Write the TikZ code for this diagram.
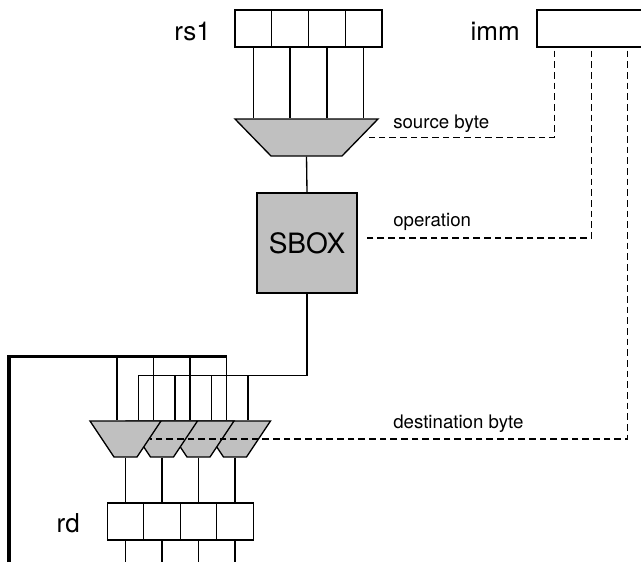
\documentclass[tikz,border=0pt]{standalone}
\usepackage{fontspec}
\setmainfont{TeX Gyre Heros}
\setsansfont{TeX Gyre Heros}
\usetikzlibrary{shapes.geometric,calc}
\definecolor{muxfill}{HTML}{C0C0C0}
\tikzset{
  wire/.style={draw=black, line width=1pt},
  loopbus/.style={draw=black, line width=2.3pt},
  ctrl/.style={draw=black, line width=1pt, dash pattern=on 5pt off 3pt},
  regbyte/.style={draw=black, line width=1pt, fill=white, minimum width=27.5pt, minimum height=27.75pt, inner sep=0pt},
  mux/.style={trapezium, shape border rotate=180, draw=black, line width=1pt, fill=muxfill, inner sep=0pt, text depth=0pt},
  bytemux/.style={mux, text width=17.25pt, text height=27pt, trapezium angle=56.3},
  regname/.style={font=\sffamily\fontsize{19.5}{22}\selectfont, inner sep=0pt},
  ctrlname/.style={font=\sffamily\fontsize{14}{17}\selectfont, inner sep=0pt}
}

\begin{document}
\begin{tikzpicture}[x=0.75pt,y=-0.75pt,font=\sffamily]
\useasboundingbox (0,0) rectangle (641,562);
\clip (0,0) rectangle (641,562);

% Source register rs1 and the immediate
\node[regbyte] (rs1a) at (253.4,28.5) {};
\node[regbyte] (rs1b) at (290.1,28.5) {};
\node[regbyte] (rs1c) at (326.9,28.5) {};
\node[regbyte] (rs1d) at (363.6,28.5) {};
\node[regname, anchor=base east] (rs1name) at (211,40) {rs1};
\node[regbyte, minimum width=92.25pt] (imm) at (598.5,28.5) {};
\node[regname, anchor=base east] (immname) at (520,40) {imm};

% Source byte select and S-box
\node[mux, text width=53.25pt, text height=27.75pt, trapezium angle=45.8] (selsrc) at (306.5,137.5) {};
\node[draw, line width=1pt, fill=muxfill, minimum size=75pt, inner sep=0pt,
      font=\sffamily\fontsize{21}{24}\selectfont] (sbox) at (307,243) {SBOX};
\draw[wire] (rs1a.south) -- (rs1a.south |- selsrc.north);
\draw[wire] (rs1b.south) -- (rs1b.south |- selsrc.north);
\draw[wire] (rs1c.south) -- (rs1c.south |- selsrc.north);
\draw[wire] (rs1d.south) -- (rs1d.south |- selsrc.north);
\draw[wire] (selsrc.south) -- (sbox.north);

% Destination byte muxes (drawn right to left so each one overlaps the next)
\node[bytemux] (dmuxd) at (235,439) {};
\node[bytemux] (dmuxc) at (198.5,439) {};
\node[bytemux] (dmuxb) at (162,439) {};
\node[bytemux] (dmuxa) at (125.5,439) {};
\coordinate (a0) at ($(dmuxa.north)+(-8.5,0)$);
\coordinate (a1) at ($(dmuxa.north)+(13,0)$);
\coordinate (b0) at ($(dmuxb.north)+(-8.5,0)$);
\coordinate (b1) at ($(dmuxb.north)+(13,0)$);
\coordinate (c0) at ($(dmuxc.north)+(-8.5,0)$);
\coordinate (c1) at ($(dmuxc.north)+(13,0)$);
\coordinate (d0) at ($(dmuxd.north)+(-8.5,0)$);
\coordinate (d1) at ($(dmuxd.north)+(13,0)$);

% S-box result to every byte lane
\coordinate (sbus) at ($(a1)+(0,-45)$);
\draw[wire] (sbox.south) |- (sbus) -- (a1);
\draw[wire] (b1) -- (b1 |- sbus);
\draw[wire] (c1) -- (c1 |- sbus);
\draw[wire] (d1) -- (d1 |- sbus);

% Destination register rd
\node[regbyte, minimum width=27.4pt] (rda) at (125.5,521.5) {};
\node[regbyte, minimum width=27.4pt] (rdb) at (162,521.5) {};
\node[regbyte, minimum width=27.4pt] (rdc) at (198.5,521.5) {};
\node[regbyte, minimum width=27.4pt] (rdd) at (235,521.5) {};
\node[regname, anchor=base east] (rdname) at (80,532) {rd};
\coordinate (loopin) at (9,562);
\draw[wire] (dmuxa.south) -- (rda.north);
\draw[wire] (dmuxb.south) -- (rdb.north);
\draw[wire] (dmuxc.south) -- (rdc.north);
\draw[wire] (dmuxd.south) -- (rdd.north);
\draw[wire] (rda.south) -- (rda.south |- loopin);
\draw[wire] (rdb.south) -- (rdb.south |- loopin);
\draw[wire] (rdc.south) -- (rdc.south |- loopin);
\draw[wire] (rdd.south) -- (rdd.south |- loopin);

% Old rd value fed back to the other mux input
\coordinate (fbus) at ($(a0)+(0,-64)$);
\draw[wire] (a0) -- (fbus);
\draw[wire] (b0) -- (b0 |- fbus);
\draw[wire] (c0) -- (c0 |- fbus);
\draw[wire] (d0) -- (d0 |- fbus);
\draw[loopbus] (loopin) |- (fbus -| d0);

% Control fields taken from imm
\draw[ctrl] ($(imm.south west)+(18,3)$) |- ($(selsrc.east)+(8,0)$);
\draw[ctrl] ($(imm.south west)+(55,3)$) |- ($(sbox.east)+(6,-5)$);
\draw[ctrl] ($(imm.south west)+(91,3)$) |- (dmuxa.east);
\node[ctrlname, anchor=base west] (srcname) at (393,128) {source byte};
\node[ctrlname, anchor=base west] (opname) at (393,226.5) {operation};
\node[ctrlname, anchor=base west] (dstname) at (393,428) {destination byte};

\end{tikzpicture}
\end{document}
